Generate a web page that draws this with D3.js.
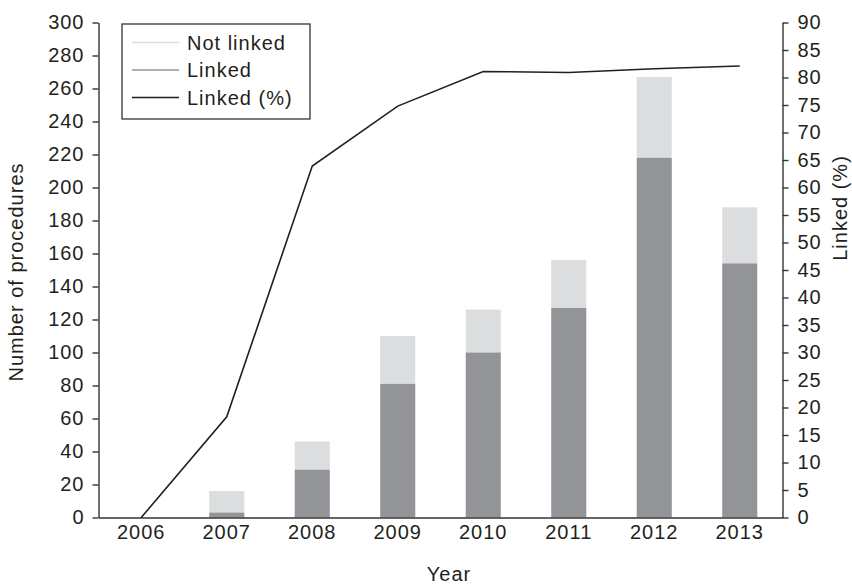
<!DOCTYPE html>
<html lang="en">
<head>
    <meta charset="UTF-8">
    <title>Procedures per year, linked vs not linked</title>
    <script src="https://d3js.org/d3.v7.min.js"></script>
    <style>
        body { margin: 0; background: white; font-family: "Liberation Sans", Arial, sans-serif; }
        svg { display: block; }
        .axis text { font-size: 20px; letter-spacing: 1px; fill: #231f20; font-family: "Liberation Sans", Arial, sans-serif; }
        .axis path, .axis line { stroke: #333; stroke-width: 1.4; }
        .label { font-size: 20px; letter-spacing: 1px; fill: #231f20; }
    </style>
</head>
<body>
    <svg id="chart"></svg>

    <script>
        const years = ["2006", "2007", "2008", "2009", "2010", "2011", "2012", "2013"];
        const linked = [0, 3, 29, 81, 100, 127, 218, 154];
        const notLinked = [0, 13, 17, 29, 26, 29, 49, 34];
        const linkedPct = [0, 18.3, 63.9, 74.8, 81.1, 80.9, 81.6, 82.1];

        const leftTicks = d3.range(0, 301, 20);
        const rightTicks = d3.range(0, 91, 5);

        const width = 852, height = 584;
        const svg = d3.select("#chart").attr("width", width).attr("height", height);

        const x = d3.scaleBand().domain(years).range([98.5, 782.5])
            .paddingInner(0.59).paddingOuter(0.295);
        const y = d3.scaleLinear().domain([0, 300]).range([517.5, 22.5]);
        const yPct = d3.scaleLinear().domain([0, 90]).range([517.5, 22.5]);

        // stacked bars: linked at the bottom, not linked on top
        const rows = years.map((yr, i) => ({ year: yr, linked: linked[i], notLinked: notLinked[i] }));

        svg.append("g").selectAll("rect")
            .data(rows).enter().append("rect")
            .attr("x", d => x(d.year))
            .attr("width", x.bandwidth())
            .attr("y", d => y(d.linked + d.notLinked))
            .attr("height", d => y(d.linked) - y(d.linked + d.notLinked))
            .attr("fill", "#dcdddf");

        svg.append("g").selectAll("rect")
            .data(rows).enter().append("rect")
            .attr("x", d => x(d.year))
            .attr("width", x.bandwidth())
            .attr("y", d => y(d.linked))
            .attr("height", d => y(0) - y(d.linked))
            .attr("fill", "#939498");

        // axes
        svg.append("g").attr("class", "axis")
            .attr("transform", "translate(98.5,0)")
            .call(d3.axisLeft(y).tickValues(leftTicks).tickSize(6).tickSizeOuter(0).tickPadding(8));

        svg.append("g").attr("class", "axis")
            .attr("transform", "translate(782.5,0)")
            .call(d3.axisRight(yPct).tickValues(rightTicks).tickSize(6).tickSizeOuter(0).tickPadding(9));

        svg.append("g").attr("class", "axis")
            .attr("transform", "translate(0,517.5)")
            .call(d3.axisBottom(x).tickSize(0).tickPadding(7));

        // linked percentage line
        const line = d3.line()
            .x((d, i) => x(years[i]) + x.bandwidth() / 2)
            .y(d => yPct(d));

        svg.append("path")
            .datum(linkedPct)
            .attr("d", line)
            .attr("fill", "none")
            .attr("stroke", "#231f20")
            .attr("stroke-width", 1.6);

        // axis titles
        svg.append("text").attr("class", "label")
            .attr("transform", "translate(23,272) rotate(-90)")
            .attr("text-anchor", "middle")
            .text("Number of procedures");

        svg.append("text").attr("class", "label")
            .attr("transform", "translate(847,208) rotate(-90)")
            .attr("text-anchor", "middle")
            .text("Linked (%)");

        svg.append("text").attr("class", "label")
            .attr("x", 449).attr("y", 581)
            .attr("text-anchor", "middle")
            .text("Year");

        // legend
        const legendItems = [
            { name: "Not linked", color: "#dcdddf" },
            { name: "Linked", color: "#939498" },
            { name: "Linked (%)", color: "#231f20" }
        ];

        const legend = svg.append("g").attr("transform", "translate(122,24)");
        legend.append("rect")
            .attr("width", 188).attr("height", 95)
            .attr("fill", "white").attr("stroke", "#333").attr("stroke-width", 1.3);

        legendItems.forEach((item, i) => {
            const ly = 18.5 + i * 27.5;
            legend.append("line")
                .attr("x1", 10).attr("x2", 57)
                .attr("y1", ly).attr("y2", ly)
                .attr("stroke", item.color).attr("stroke-width", 1.6);
            legend.append("text").attr("class", "label")
                .attr("x", 65).attr("y", ly + 7)
                .text(item.name);
        });
    </script>
</body>
</html>
